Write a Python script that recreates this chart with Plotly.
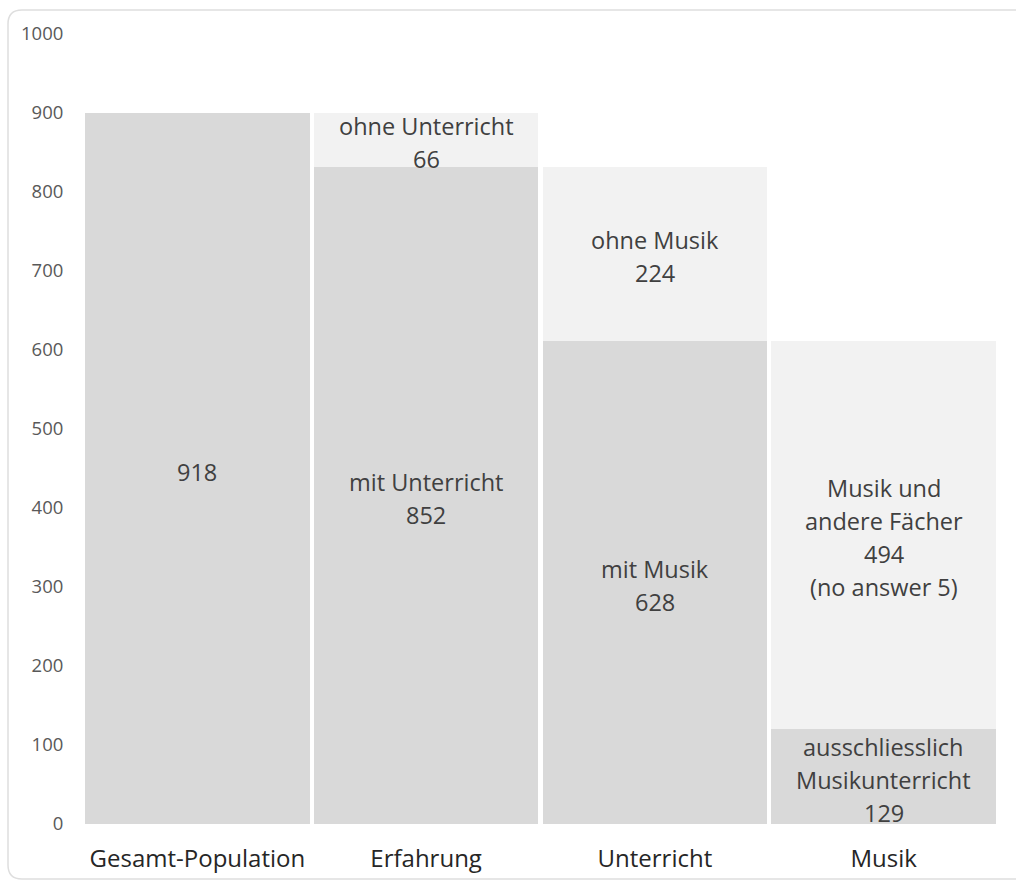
import plotly.graph_objects as go

categories = ["Gesamt-Population", "Erfahrung", "Unterricht", "Musik"]

# drawn bar heights
lower_values = [900, 832, 612, 120]
upper_values = [None, 68, 220, 492]

# label texts shown inside the segments
lower_labels = ["918", "mit Unterricht\n852", "mit Musik\n628",
                "ausschliesslich\nMusikunterricht\n129"]
upper_labels = [None, "ohne Unterricht\n66", "ohne Musik\n224",
                "Musik und\nandere Fächer\n494\n(no answer 5)"]

y_ticks = [0, 100, 200, 300, 400, 500, 600, 700, 800, 900, 1000]

DARK = "#d9d9d9"
LIGHT = "#f2f2f2"
TEXT = "#404040"
FONT = "Open Sans"

W, H = 1016, 882
ML, MR, MT, MB = 83, 18, 34, 58

fig = go.Figure()
fig.add_trace(go.Bar(x=categories, y=lower_values, marker=dict(color=DARK, line=dict(width=0)),
                     hoverinfo="skip", showlegend=False))
fig.add_trace(go.Bar(x=categories, y=upper_values, marker=dict(color=LIGHT, line=dict(width=0)),
                     hoverinfo="skip", showlegend=False))

LINE = 33
annotations = []
def add_label(cat, base, height, label):
    if label is None or height is None:
        return
    lines = label.split("\n")
    n = len(lines)
    ymid = base + height / 2
    for i, ln in enumerate(lines):
        shift = ((n - 1) / 2 - i) * LINE - 3
        annotations.append(dict(x=cat, y=ymid, xref="x", yref="y", text=ln, showarrow=False,
                                yshift=shift, font=dict(family=FONT, size=23.5, color=TEXT)))

for c, lv, uv, ll, ul in zip(categories, lower_values, upper_values, lower_labels, upper_labels):
    add_label(c, 0, lv, ll)
    add_label(c, lv, uv, ul)

# rounded frame around the chart (paper coordinates)
pw, ph = W - ML - MR, H - MT - MB
def px(xp):
    return (xp - ML) / pw
def py(yp):
    return (H - MB - yp) / ph
x0, x1, y0, y1, r = 8, 1040, 10, 879, 14
path = (f"M {px(x0 + r)},{py(y0)} L {px(x1 - r)},{py(y0)} Q {px(x1)},{py(y0)} {px(x1)},{py(y0 + r)} "
        f"L {px(x1)},{py(y1 - r)} Q {px(x1)},{py(y1)} {px(x1 - r)},{py(y1)} "
        f"L {px(x0 + r)},{py(y1)} Q {px(x0)},{py(y1)} {px(x0)},{py(y1 - r)} "
        f"L {px(x0)},{py(y0 + r)} Q {px(x0)},{py(y0)} {px(x0 + r)},{py(y0)} Z")

fig.update_layout(
    width=W, height=H,
    margin=dict(l=ML, r=MR, t=MT, b=MB, autoexpand=False),
    barmode="stack", bargap=0.018,
    plot_bgcolor="white", paper_bgcolor="white",
    annotations=annotations,
    shapes=[dict(type="path", path=path, xref="paper", yref="paper",
                 line=dict(color="#dedede", width=1.5), fillcolor="rgba(0,0,0,0)", layer="below")],
    xaxis=dict(showgrid=False, showline=False, zeroline=False, ticks="outside", ticklen=13,
               automargin=False,
               tickcolor="rgba(0,0,0,0)", tickfont=dict(family=FONT, size=24, color="#262626")),
    yaxis=dict(range=[0, 1000], tickvals=y_ticks, showgrid=False, showline=False, zeroline=False,
               automargin=False,
               ticks="outside", ticklen=15, tickcolor="rgba(0,0,0,0)",
               tickfont=dict(family=FONT, size=18.5, color="#595959")),
)

fig.write_html("out.html", config={"displayModeBar": False},
               post_script="document.body.style.margin='0px';document.body.style.overflow='hidden';")
